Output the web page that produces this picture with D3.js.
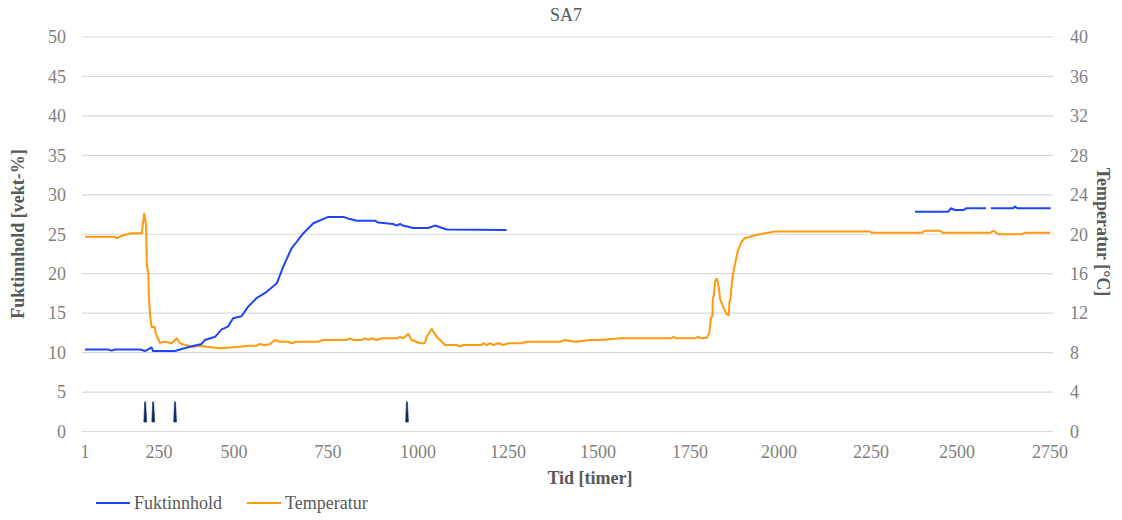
<!DOCTYPE html>
<html>
<head>
<meta charset="utf-8">
<script src="https://cdn.jsdelivr.net/npm/d3@7"></script>
<style>
  html, body { margin: 0; padding: 0; background: #fff; }
  svg { display: block; }
  svg text { font-family: "Liberation Serif", "Times New Roman", "DejaVu Serif", serif; }
</style>
</head>
<body>
<svg id="chart" width="1122" height="520"></svg>
<script>
// ---- data -----------------------------------------------------------
const xTicks = [1, 250, 500, 750, 1000, 1250, 1500, 1750, 2000, 2250, 2500, 2750];
const yLeftTicks = [0, 5, 10, 15, 20, 25, 30, 35, 40, 45, 50];
const yRightTicks = [0, 4, 8, 12, 16, 20, 24, 28, 32, 36, 40];

// Fuktinnhold [vekt-%] : [tid, verdi]; null = no reading
const moistTime = [1, 78, 91, 102, 186, 203, 225, 230, 303, 320, 353, 392, 403, 437, 459, 480, 497, 520, 537, 560, 587, 614, 631, 653, 667, 684, 711, 751, 793, 806, 830, 881, 889, 931, 941, 950, 958, 986, 1028, 1047, 1080, 1246,
  1300,
  2378, 2475, 2482, 2494, 2517, 2526, 2578, 2584, 2591, 2651, 2656, 2662, 2752];
const moistValue = [10.4, 10.4, 10.25, 10.4, 10.4, 10.2, 10.65, 10.2, 10.2, 10.4, 10.75, 11.1, 11.6, 12.0, 12.95, 13.3, 14.35, 14.6, 15.8, 16.9, 17.7, 18.8, 20.9, 23.2, 24.05, 25.1, 26.4, 27.2, 27.2, 27.0, 26.7, 26.7, 26.5, 26.3, 26.1, 26.3, 26.1, 25.8, 25.8, 26.1, 25.6, 25.55,
  null,
  27.85, 27.85, 28.3, 28.07, 28.07, 28.3, 28.3, null, 28.3, 28.3, 28.5, 28.3, 28.3];

// Temperatur [°C]
const tempTime = [1, 102, 108, 119, 130, 158, 192, 200, 206, 209, 214, 216, 220, 225, 236, 239, 253, 270, 292, 309, 320, 337, 364, 387, 409, 453, 516, 538, 560, 569, 582, 596, 609, 622, 644, 653, 666, 724, 737, 756, 802, 811, 820, 843, 853, 862, 871, 885, 899, 941, 950, 959, 973, 982, 1006, 1019, 1024, 1038, 1052, 1061, 1075, 1107, 1117, 1126, 1177, 1182, 1191, 1200, 1209, 1223, 1237, 1251, 1288, 1302, 1367, 1394, 1408, 1436, 1478, 1505, 1560, 1641, 1700, 1705, 1714, 1764, 1773, 1783, 1797, 1804, 1809, 1813, 1814, 1817, 1820, 1825, 1829, 1832, 1834, 1843, 1853, 1859, 1861, 1864, 1867, 1871, 1876, 1879, 1885, 1895, 1904, 1932, 1960, 1989, 2247, 2253, 2397, 2407, 2450, 2460, 2589, 2598, 2611, 2674, 2683, 2750];
const tempValue = [19.75, 19.75, 19.6, 19.75, 19.9, 20.1, 20.1, 22.1, 21.1, 16.9, 16.0, 13.7, 11.8, 10.6, 10.6, 9.95, 9.0, 9.1, 8.95, 9.45, 8.95, 8.77, 8.6, 8.7, 8.6, 8.44, 8.6, 8.7, 8.7, 8.87, 8.75, 8.87, 9.28, 9.1, 9.1, 8.95, 9.1, 9.1, 9.28, 9.28, 9.28, 9.45, 9.28, 9.28, 9.45, 9.28, 9.45, 9.28, 9.45, 9.45, 9.6, 9.45, 9.9, 9.28, 8.95, 8.95, 9.6, 10.4, 9.6, 9.28, 8.77, 8.77, 8.6, 8.77, 8.77, 8.95, 8.77, 8.95, 8.77, 8.95, 8.77, 8.95, 8.95, 9.1, 9.1, 9.1, 9.28, 9.1, 9.28, 9.28, 9.45, 9.45, 9.45, 9.6, 9.45, 9.45, 9.6, 9.45, 9.5, 9.95, 11.5, 11.7, 13.5, 13.8, 15.2, 15.5, 15.0, 14.35, 13.5, 12.65, 11.9, 11.8, 13.2, 13.5, 14.85, 16.0, 16.9, 17.4, 18.4, 19.25, 19.6, 19.9, 20.1, 20.27, 20.27, 20.15, 20.15, 20.35, 20.35, 20.15, 20.15, 20.35, 20.0, 20.0, 20.15, 20.15];

// short event marks near the bottom (left axis units)
const eventTime = [203, 230, 303, 969];
const eventLow = [1.2, 1.2, 1.2, 1.2];
const eventHigh = [3.75, 3.75, 3.75, 3.75];

// ---- layout ---------------------------------------------------------
const svg = d3.select("#chart");
const plotLeft = 82, plotRight = 1053, plotTop = 37, plotBottom = 431.5;
const grey = "#595959", tickGrey = "#7f7f7f", gridGrey = "#d9d9d9";
const blue = "#1f45fc", orange = "#ff9a0d", navy = "#0b2a66";
const fs = 18;

// time axis positions of the labelled ticks
const xTickPos = [85, 159, 234, 328, 418, 508, 598, 690, 779, 871, 957, 1050];
const x = d3.scaleLinear().domain(xTicks).range(xTickPos);
const yL = d3.scaleLinear().domain([0, 50]).range([plotBottom, plotTop]);
const yR = d3.scaleLinear().domain([0, 40]).range([plotBottom, plotTop]);

// gridlines
svg.append("g").selectAll("line").data(yLeftTicks).join("line")
  .attr("x1", plotLeft).attr("x2", plotRight)
  .attr("y1", d => yL(d)).attr("y2", d => yL(d))
  .attr("stroke", gridGrey).attr("stroke-width", 1.2);

// left axis labels
svg.append("g").selectAll("text").data(yLeftTicks).join("text")
  .attr("x", 66).attr("y", d => yL(d)).attr("dy", "0.35em")
  .attr("text-anchor", "end").attr("font-size", fs).attr("fill", tickGrey)
  .text(d => d);

// right axis labels
svg.append("g").selectAll("text").data(yRightTicks).join("text")
  .attr("x", 1070).attr("y", d => yR(d)).attr("dy", "0.35em")
  .attr("text-anchor", "start").attr("font-size", fs).attr("fill", tickGrey)
  .text(d => d);

// bottom axis labels
svg.append("g").selectAll("text").data(xTicks).join("text")
  .attr("x", d => x(d)).attr("y", 452).attr("dy", "0.35em")
  .attr("text-anchor", "middle").attr("font-size", fs).attr("fill", tickGrey)
  .text(d => d);

// titles
svg.append("text").attr("x", 566).attr("y", 15).attr("dy", "0.35em")
  .attr("text-anchor", "middle").attr("font-size", fs).attr("fill", grey)
  .text("SA7");
svg.append("text").attr("x", 590).attr("y", 478).attr("dy", "0.35em")
  .attr("text-anchor", "middle").attr("font-size", fs).attr("font-weight", "bold")
  .attr("fill", grey).text("Tid [timer]");
svg.append("text").attr("transform", "translate(18,234) rotate(-90)").attr("dy", "0.35em")
  .attr("text-anchor", "middle").attr("font-size", fs).attr("font-weight", "bold")
  .attr("fill", grey).text("Fuktinnhold [vekt-%]");
svg.append("text").attr("transform", "translate(1103,232) rotate(90)").attr("dy", "0.35em")
  .attr("text-anchor", "middle").attr("font-size", fs).attr("font-weight", "bold")
  .attr("fill", grey).text("Temperatur [°C]");

// series
const moist = moistTime.map((t, i) => ({ t, v: moistValue[i] }));
const temp = tempTime.map((t, i) => ({ t, v: tempValue[i] }));

const lineL = d3.line().defined(d => d.v !== null).x(d => x(d.t)).y(d => yL(d.v));
const lineR = d3.line().defined(d => d.v !== null).x(d => x(d.t)).y(d => yR(d.v));

svg.append("path").datum(temp).attr("d", lineR)
  .attr("fill", "none").attr("stroke", orange).attr("stroke-width", 2)
  .attr("stroke-linejoin", "round");
svg.append("path").datum(moist).attr("d", lineL)
  .attr("fill", "none").attr("stroke", blue).attr("stroke-width", 2)
  .attr("stroke-linejoin", "round");

// event marks: thin wedges, narrow at the top
svg.append("g").selectAll("path").data(eventTime).join("path")
  .attr("d", (t, i) => {
    const cx = x(t), yt = yL(eventHigh[i]), yb = yL(eventLow[i]);
    return `M${cx - 0.4},${yt}L${cx + 0.6},${yt}L${cx + 1.6},${yb}L${cx - 1.2},${yb}Z`;
  })
  .attr("fill", navy).attr("stroke", navy).attr("stroke-width", 0.6);

// legend
const legend = [
  { name: "Fuktinnhold", color: blue, x0: 96 },
  { name: "Temperatur", color: orange, x0: 247 }
];
const lg = svg.append("g");
lg.selectAll("line").data(legend).join("line")
  .attr("x1", d => d.x0).attr("x2", d => d.x0 + 34)
  .attr("y1", 503).attr("y2", 503)
  .attr("stroke", d => d.color).attr("stroke-width", 2);
lg.selectAll("text").data(legend).join("text")
  .attr("x", d => d.x0 + 38).attr("y", 503).attr("dy", "0.35em")
  .attr("font-size", fs).attr("fill", grey)
  .text(d => d.name);
</script>
</body>
</html>
